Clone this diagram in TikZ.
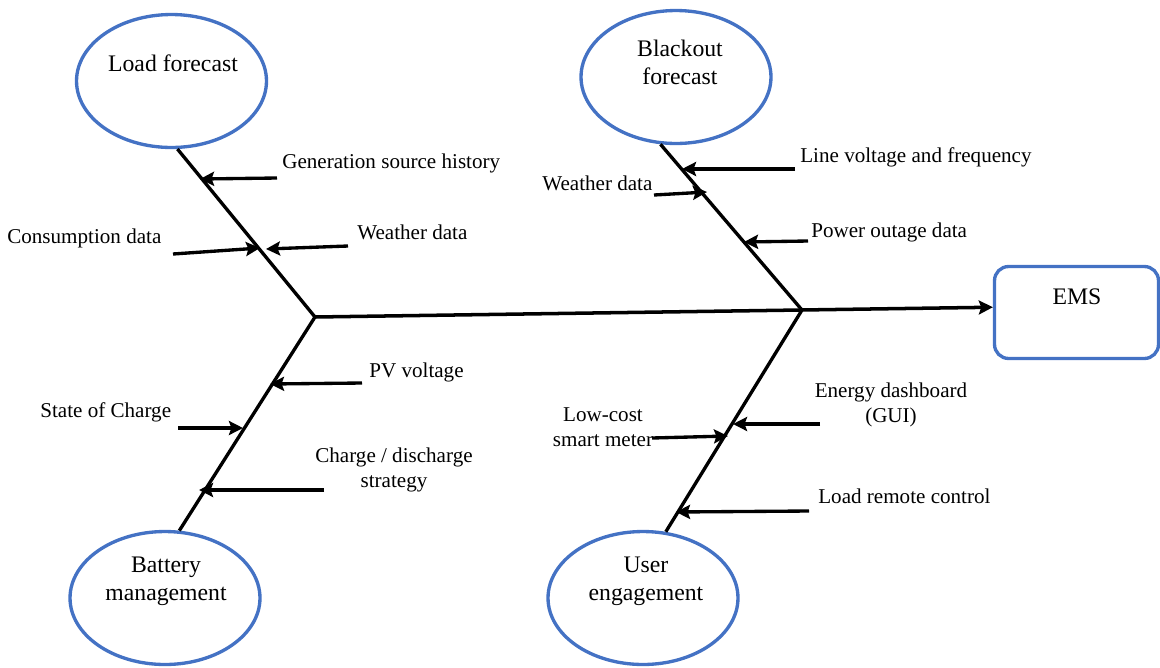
\documentclass[tikz,border=0pt]{standalone}
\usepackage{fontspec}
\setmainfont{Liberation Serif}
\usetikzlibrary{shapes.geometric,arrows.meta}

\begin{document}
\begin{tikzpicture}[x=0.02cm,y=-0.02cm,
    bone/.style={line width=1.9pt},
    feed/.style={line width=1.9pt, -{Stealth[length=8pt,width=8pt,inset=1.4pt]}},
    goal/.style={ellipse, draw=goalblue, line width=1.9pt, minimum width=3.8cm, minimum height=2.66cm},
    goaltext/.style={font=\fontsize{13.5}{16}\selectfont, align=center, inner sep=0pt},
    factor/.style={font=\fontsize{12}{14.5}\selectfont, align=center, inner sep=0pt}]
    % Define colors
    \definecolor{goalblue}{RGB}{68, 114, 196}

    \useasboundingbox (0,0) rectangle (1160,667);

    % Ellipses and the EMS box
    \node[goal] (lf) at (171.5,81) {};
    \node[goal] (bf) at (676,77) {};
    \node[goal] (bm) at (165,598) {};
    \node[goal] (ue) at (643,598) {};
    \node[draw=goalblue, line width=1.9pt, rounded corners=8pt,
          minimum width=3.28cm, minimum height=1.84cm] (ems) at (1076.5,312.5) {};

    % Their texts
    \node[goaltext] (lft) at (173,63) {Load forecast};
    \node[goaltext] (bft) at (680,62) {Blackout\\forecast};
    \node[goaltext] (bmt) at (166,581) {Battery\\management};
    \node[goaltext] (uet) at (646,581) {User\\engagement};
    \node[goaltext] (emst) at (1077,297) {EMS};

    % Spine and bones
    \coordinate (lhub) at (315,317);
    \coordinate (rhub) at (802,310);
    \draw[feed, line width=2pt] (lhub) -- ([yshift=3pt]ems.west);
    \draw[bone] (lf.-85) -- (lhub);
    \draw[bone] (bm.78) -- (lhub);
    \draw[bone] (bf.-103) -- (rhub);
    \draw[bone] (ue.71) -- (rhub);

    % Load forecast
    \coordinate (gsh) at (277,178);  \coordinate (gshtip) at (200,179);
    \coordinate (cons) at (173,254); \coordinate (constip) at (260,248);
    \coordinate (wda) at (348,246);  \coordinate (wdatip) at (266,249);
    \draw[feed] (gsh) -- (gshtip);
    \draw[feed] (cons) -- (constip);
    \draw[feed] (wda) -- (wdatip);
    \node[factor, anchor=west] (gshl) at (282,163) {Generation source history};
    \node[factor, anchor=west] (consl) at (7,238) {Consumption data};
    \node[factor, anchor=west] (wdal) at (357,232) {Weather data};

    % Blackout forecast
    \coordinate (lvf) at (795,169);  \coordinate (lvftip) at (682,169);
    \coordinate (wdb) at (654,195);  \coordinate (wdbtip) at (707,192);
    \coordinate (pod) at (808,241);  \coordinate (podtip) at (744,242);
    \draw[feed] (lvf) -- (lvftip);
    \draw[feed] (wdb) -- (wdbtip);
    \draw[feed] (pod) -- (podtip);
    \node[factor, anchor=west] (lvfl) at (800,157) {Line voltage and frequency};
    \node[factor, anchor=west] (wdbl) at (542,183) {Weather data};
    \node[factor, anchor=west] (podl) at (811,232) {Power outage data};

    % Battery management
    \coordinate (pv) at (362,383);   \coordinate (pvtip) at (270,384);
    \coordinate (soc) at (178,428);  \coordinate (soctip) at (243,428);
    \coordinate (cds) at (324,490);  \coordinate (cdstip) at (199,490);
    \draw[feed] (pv) -- (pvtip);
    \draw[feed] (soc) -- (soctip);
    \draw[feed] (cds) -- (cdstip);
    \node[factor, anchor=west] (pvl) at (369,372) {PV voltage};
    \node[factor, anchor=west] (socl) at (40,412) {State of Charge};
    \node[factor] (cdsl) at (394,470) {Charge / discharge\\strategy};

    % User engagement
    \coordinate (edb) at (820,424);  \coordinate (edbtip) at (733,424);
    \coordinate (lcm) at (652,438);  \coordinate (lcmtip) at (728,436);
    \coordinate (lrc) at (809,511);  \coordinate (lrctip) at (676,512);
    \draw[feed] (edb) -- (edbtip);
    \draw[feed] (lcm) -- (lcmtip);
    \draw[feed] (lrc) -- (lrctip);
    \node[factor] (edbl) at (891,405) {Energy dashboard\\(GUI)};
    \node[factor] (lcml) at (603,427) {Low-cost\\smart meter};
    \node[factor, anchor=west] (lrcl) at (818,496) {Load remote control};

\end{tikzpicture}
\end{document}
